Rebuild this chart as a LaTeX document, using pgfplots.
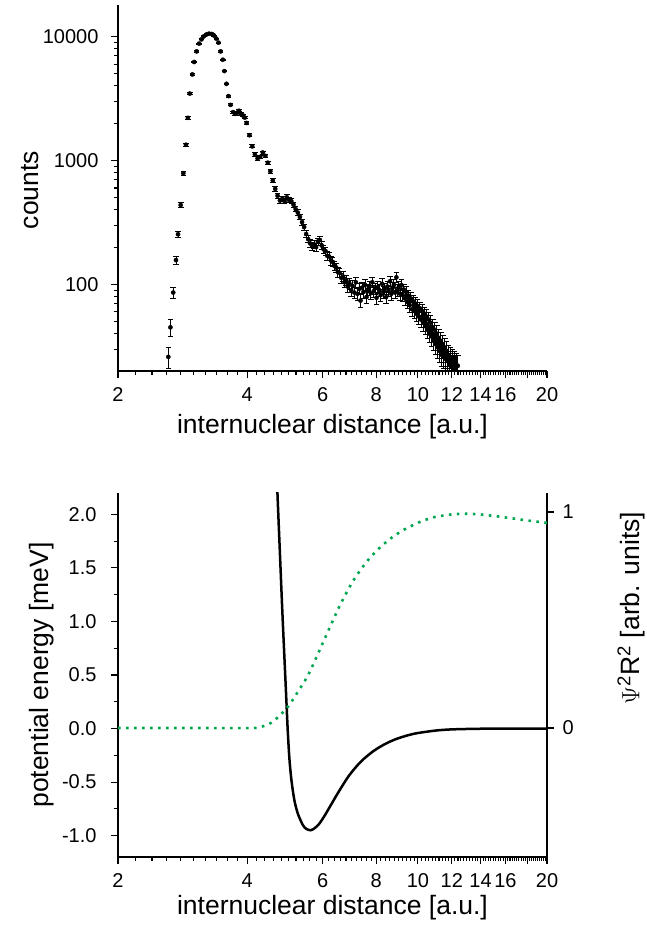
\documentclass[border=0pt]{standalone}
\usepackage{fontspec}
\setmainfont{Liberation Sans}
\usepackage{pgfplots}
\usepackage{pgfplotstable}
\pgfplotsset{compat=1.18}
\definecolor{dotgreen}{RGB}{0,166,80}

\pgfplotstableread{
x y e
2.62 26 5.1
2.65 45 6.7
2.69 86 9.3
2.73 157 12.5
2.76 254 15.9
2.80 437 20.9
2.84 790 28.1
2.88 1340 36.6
2.91 2210 47.0
2.94 3470 58.9
2.98 4950 70.4
3.01 6240 79.0
3.05 7600 87.2
3.09 8780 93.7
3.13 9500 97.5
3.17 10040 100.2
3.22 10430 102.1
3.26 10570 102.8
3.31 10500 102.5
3.35 10190 100.9
3.39 9640 98.2
3.43 8940 94.6
3.47 7600 87.2
3.51 6510 80.7
3.54 5270 72.6
3.58 4160 64.5
3.62 3310 57.5
3.66 2810 53.0
3.71 2460 49.6
3.75 2380 48.8
3.79 2430 49.3
3.83 2520 50.2
3.87 2380 48.8
3.91 2310 48.1
3.95 2220 47.1
3.99 2010 44.8
4.05 1600 40.0
4.11 1300 36.1
4.17 1120 33.5
4.23 1040 32.2
4.29 1070 32.7
4.35 1160 34.1
4.41 1090 33.0
4.47 960 31.0
4.53 820 28.6
4.59 690 26.3
4.65 590 24.3
4.71 520 22.8
4.77 475 21.8
4.83 490 22.1
4.89 470 21.7
4.95 505 22.5
5.01 480 21.9
5.07 470 21.7
5.13 440 21.0
5.19 405 20.1
5.25 380 19.5
5.31 350 18.7
5.37 318 17.8
5.43 290 17.0
5.49 255 16.0
5.55 232 15.2
5.61 214 14.6
5.67 203 14.2
5.73 210 14.5
5.79 200 14.1
5.85 222 14.9
5.91 228 15.1
5.97 206 14.4
6.03 192 13.9
6.09 186 13.6
6.15 170 13.0
6.21 168 13.0
6.27 156 12.5
6.33 152 12.3
6.39 141 11.9
6.45 137 11.7
6.51 126 11.2
6.57 124 11.1
6.63 113 10.6
6.69 116 10.8
6.75 104 10.2
6.81 108 10.4
6.87 96 9.8
6.93 101 10.0
6.99 90 9.5
7.05 97 9.8
7.11 86 9.3
7.17 104 10.2
7.23 84 9.2
7.29 92 9.6
7.35 74 8.6
7.41 94 9.7
7.47 87 9.3
7.53 99 9.9
7.59 79 8.9
7.65 91 9.5
7.71 96 9.8
7.77 85 9.2
7.83 104 10.2
7.89 88 9.4
7.95 93 9.6
8.01 78 8.8
8.07 95 9.7
8.13 90 9.5
8.19 82 9.1
8.25 101 10.0
8.31 87 9.3
8.37 92 9.6
8.43 79 8.9
8.49 96 9.8
8.55 89 9.4
8.61 106 10.3
8.67 84 9.2
8.73 94 9.7
8.79 99 9.9
8.85 86 9.3
8.91 114 10.7
8.97 90 9.5
9.03 96 9.8
9.09 84 9.2
9.15 99 9.9
9.21 82 9.1
9.27 91 9.5
9.33 77 8.8
9.39 87 9.3
9.45 72 8.5
9.51 81 9.0
9.57 68 8.2
9.63 77 8.8
9.69 63 7.9
9.75 73 8.5
9.81 61 7.8
9.87 70 8.4
9.93 58 7.6
9.99 67 8.2
10.05 55 7.4
10.11 64 8.0
10.17 52 7.2
10.23 61 7.8
10.29 49 7.0
10.35 58 7.6
10.41 46 6.8
10.47 55 7.4
10.53 43 6.6
10.59 52 7.2
10.65 40 6.3
10.71 49 7.0
10.77 38 6.2
10.83 45 6.7
10.89 35 5.9
10.95 43 6.6
11.01 33 5.7
11.07 40 6.3
11.13 31 5.6
11.19 37 6.1
11.25 29 5.4
11.31 35 5.9
11.37 27 5.2
11.43 33 5.7
11.49 26 5.1
11.55 31 5.6
11.61 25 5.0
11.67 29 5.4
11.73 24 4.9
11.79 27 5.2
11.85 23 4.8
11.91 26 5.1
11.97 22 4.7
12.03 25 5.0
12.09 22 4.7
12.15 24 4.9
12.21 22 4.7
12.27 23 4.8
12.39 22 4.7
}\countsdata

\pgfplotstableread{
x E
4.690 2.40
4.706 2.20
4.763 1.69
4.834 1.07
4.913 0.45
4.950 0.16
4.975 -0.03
5.020 -0.29
5.079 -0.50
5.160 -0.68
5.256 -0.80
5.400 -0.905
5.500 -0.938
5.626 -0.950
5.750 -0.930
5.880 -0.893
6.050 -0.820
6.300 -0.700
6.550 -0.585
6.910 -0.440
7.300 -0.325
7.600 -0.260
7.950 -0.200
8.400 -0.143
8.900 -0.098
9.500 -0.062
10.00 -0.042
11.00 -0.019
12.00 -0.008
14.00 -0.002
17.00 0
20.00 0
}\potdata

\pgfplotstableread{
x P
2.00 0
3.00 0
4.10 0.0
4.30 0.005
4.41 0.012
4.55 0.024
4.67 0.042
4.80 0.064
4.95 0.092
5.10 0.128
5.26 0.170
5.45 0.218
5.63 0.270
5.93 0.370
6.24 0.468
6.56 0.562
6.84 0.632
7.10 0.688
7.40 0.740
7.75 0.790
8.20 0.840
8.70 0.882
9.28 0.918
10.05 0.952
10.9 0.976
12.0 0.989
13.0 0.992
14.1 0.988
15.3 0.980
16.8 0.969
18.3 0.959
20.0 0.950
}\psidata

\begin{document}
\begin{tikzpicture}
\useasboundingbox (0pt,0pt) rectangle (647pt,930pt);

\begin{axis}[
  scale only axis, width=429pt, height=366pt,
  at={(118pt,559pt)}, anchor=south west,
  xmode=log, ymode=log,
  xmin=2, xmax=20, ymin=20, ymax=18000,
  axis lines*=left,
  xtick={2,4,6,8,10,12,14,16,18,20},
  xticklabels={2,4,6,8,10,12,14,16,,20},
  minor xtick={2.2,2.4,2.6,2.8,3,3.2,3.4,3.6,3.8,4.2,4.4,4.6,4.8,5,5.2,5.4,5.6,5.8,6.2,6.4,6.6,6.8,7,7.2,7.4,7.6,7.8,8.2,8.4,8.6,8.8,9,9.2,9.4,9.6,9.8,10.2,10.4,10.6,10.8,11,11.2,11.4,11.6,11.8,12.2,12.4,12.6,12.8,13,13.2,13.4,13.6,13.8,14.2,14.4,14.6,14.8,15,15.2,15.4,15.6,15.8,16.2,16.4,16.6,16.8,17,17.2,17.4,17.6,17.8,18.2,18.4,18.6,18.8,19,19.2,19.4,19.6,19.8},
  ytick={100,1000,10000}, yticklabels={100,1000,10000},
  minor ytick={30,40,50,60,70,80,90,200,300,400,500,600,700,800,900,2000,3000,4000,5000,6000,7000,8000,9000},
  tick align=outside,
  major tick length=7pt, minor tick length=4pt,
  tick style={black, line width=1.1pt},
  axis line style={line width=1.4pt},
  tick label style={font=\fontsize{20}{24}\selectfont},
  xticklabel style={yshift=-6pt},
  yticklabel style={xshift=-9pt},
  label style={font=\fontsize{26.5}{31}\selectfont},
  xlabel={internuclear distance [a.u.]},
  ylabel={counts},
  xlabel style={at={(axis description cs:0.5,-0.152)}, anchor=center},
  ylabel style={at={(axis description cs:-0.205,0.4945)}, anchor=center},
]
\addplot[only marks, mark=*, black, mark size=2.1pt,
  error bars/.cd, y dir=both, y explicit,
  error bar style={line width=0.9pt, black},
  error mark options={rotate=90, line width=0.9pt, mark size=2.8pt, black}]
  table[x=x, y=y, y error=e] {\countsdata};
\end{axis}

\begin{axis}[
  scale only axis, width=429pt, height=364pt,
  at={(118pt,73pt)}, anchor=south west,
  xmode=log, xmin=2, xmax=20,
  ymin=-1.2, ymax=2.2,
  axis x line*=bottom, axis y line*=left,
  xtick={2,4,6,8,10,12,14,16,18,20},
  xticklabels={2,4,6,8,10,12,14,16,,20},
  minor xtick={2.2,2.4,2.6,2.8,3,3.2,3.4,3.6,3.8,4.2,4.4,4.6,4.8,5,5.2,5.4,5.6,5.8,6.2,6.4,6.6,6.8,7,7.2,7.4,7.6,7.8,8.2,8.4,8.6,8.8,9,9.2,9.4,9.6,9.8,10.2,10.4,10.6,10.8,11,11.2,11.4,11.6,11.8,12.2,12.4,12.6,12.8,13,13.2,13.4,13.6,13.8,14.2,14.4,14.6,14.8,15,15.2,15.4,15.6,15.8,16.2,16.4,16.6,16.8,17,17.2,17.4,17.6,17.8,18.2,18.4,18.6,18.8,19,19.2,19.4,19.6,19.8},
  ytick={-1,-0.5,0,0.5,1,1.5,2},
  yticklabels={-1.0,-0.5,0.0,0.5,1.0,1.5,2.0},
  minor ytick={-0.75,-0.25,0.25,0.75,1.25,1.75},
  tick align=outside,
  major tick length=7pt, minor tick length=4pt,
  tick style={black, line width=1.1pt},
  axis line style={line width=1.4pt},
  tick label style={font=\fontsize{20}{24}\selectfont},
  xticklabel style={yshift=-6pt},
  yticklabel style={xshift=-11pt},
  label style={font=\fontsize{26.5}{31}\selectfont},
  xlabel={internuclear distance [a.u.]},
  ylabel={potential energy [meV]},
  xlabel style={at={(axis description cs:0.5,-0.14)}, anchor=center},
  ylabel style={at={(axis description cs:-0.179,0.5)}, anchor=center},
]
\addplot[black, line width=2.5pt, smooth, tension=0.5] table[x=x, y=E] {\potdata};
\end{axis}

\begin{axis}[
  scale only axis, width=429pt, height=364pt,
  at={(118pt,73pt)}, anchor=south west,
  xmode=log, xmin=2, xmax=20,
  ymin=-0.597, ymax=1.088,
  axis x line=none, axis y line*=right,
  ytick={0,1}, yticklabels={0,1},
  tick align=outside,
  major tick length=7pt,
  tick style={black, line width=1.1pt},
  axis line style={line width=1.4pt},
  tick label style={font=\fontsize{20}{24}\selectfont},
  yticklabel style={xshift=5pt},
  label style={font=\fontsize{26.5}{31}\selectfont},
  ylabel={$\Psi$\textsuperscript{2}R\textsuperscript{2} [arb. units]},
  ylabel style={at={(axis description cs:1.196,0.684)}, anchor=center},
]
\addplot[dotgreen, line width=2.6pt, dash pattern=on 2.6pt off 5.4pt, smooth, tension=0.4] table[x=x, y=P] {\psidata};
\end{axis}
\end{tikzpicture}
\end{document}
